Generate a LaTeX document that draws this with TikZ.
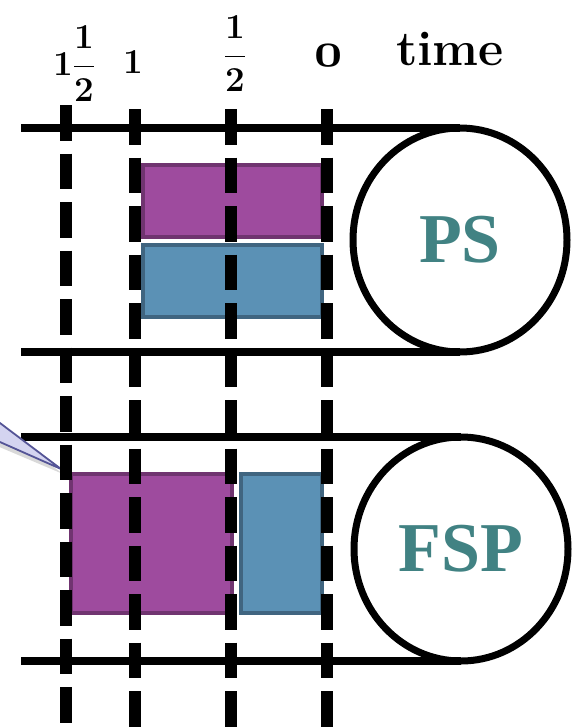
\RequirePackage{fix-cm}
\documentclass[tikz,border=0pt]{standalone}
\usepackage{fontspec}
\usepackage{xcolor}
\newfontfamily\tagfont{Liberation Serif}
\usepackage{tikz}
\usetikzlibrary{positioning,shapes.geometric}

\definecolor{slotPurple}{RGB}{158,75,158}
\definecolor{slotPurpleLine}{RGB}{112,52,112}
\definecolor{slotBlue}{RGB}{91,145,181}
\definecolor{slotBlueLine}{RGB}{64,101,128}
\definecolor{tagTeal}{RGB}{65,130,131}
\definecolor{tailFill}{RGB}{212,212,240}
\definecolor{tailLine}{RGB}{84,84,150}

\begin{document}
\begin{tikzpicture}[
  x=1pt,y=-1pt,
  rail/.style={line width=8pt},
  loop/.style={ellipse,draw,line width=7pt,minimum width=214pt,minimum height=224pt,inner sep=0pt,outer sep=0pt,
    font=\tagfont\bfseries\fontsize{70}{70}\selectfont,text=tagTeal},
  slot/.style={rectangle,draw,line width=4pt,inner sep=0pt},
  tick/.style={line width=12pt,dash pattern=on 35.5pt off 13pt},
  lbl/.style={font=\bfseries\fontsize{49}{49}\selectfont\boldmath,inner sep=0pt},
  frac/.style={font=\fontsize{35}{35}\selectfont\boldmath,inner sep=0pt}
]
\useasboundingbox (0,0) rectangle (575,728);

% time axis labels
\node[frac] (tOneHalf) at (74,64) {$1\displaystyle\frac{1}{2}$};
\node[frac,anchor=base] (tOne) at (133,73) {$1$};
\node[frac] (tHalf) at (235,54) {$\displaystyle\frac{1}{2}$};
\node[lbl,anchor=base] (tZero) at (329,66) {$\mathnormal{0}$};
\node[lbl,anchor=base] (time) at (450,65) {time};

% the two processors
\node[loop] (ps) at (460,240) {PS};
\node[loop] (fsp) at (461,549) {FSP};
\draw[rail] (21,128) -- (ps.north);
\draw[rail] (21,352) -- (ps.south);
\draw[rail] (21,437) -- (fsp.north);
\draw[rail] (21,661) -- (fsp.south);

% callout tail
\fill[black!15] (-10,420) -- (63,474) -- (-10,443) -- cycle;
\draw[tailLine,fill=tailFill,line width=1.8pt,line join=round] (-10,415.5) -- (61,469) -- (-10,437.6) -- cycle;

% jobs
\node[slot,fill=slotPurple,draw=slotPurpleLine,minimum width=179pt,minimum height=72pt] (psA) at (232.5,201) {};
\node[slot,fill=slotBlue,draw=slotBlueLine,minimum width=179pt,minimum height=72pt,below=4pt of psA] (psB) {};
\node[slot,fill=slotPurple,draw=slotPurpleLine,minimum width=161pt,minimum height=139pt] (fspA) at (151.5,543.5) {};
\node[slot,fill=slotBlue,draw=slotBlueLine,minimum width=81pt,minimum height=139pt,right=5pt of fspA] (fspB) {};

% dashed time marks
\draw[tick] (66,105) -- (66,728);
\draw[tick] (135,109) -- (135,728);
\draw[tick] (231,109) -- (231,728);
\draw[tick] (327,109) -- (327,728);
\end{tikzpicture}
\end{document}
